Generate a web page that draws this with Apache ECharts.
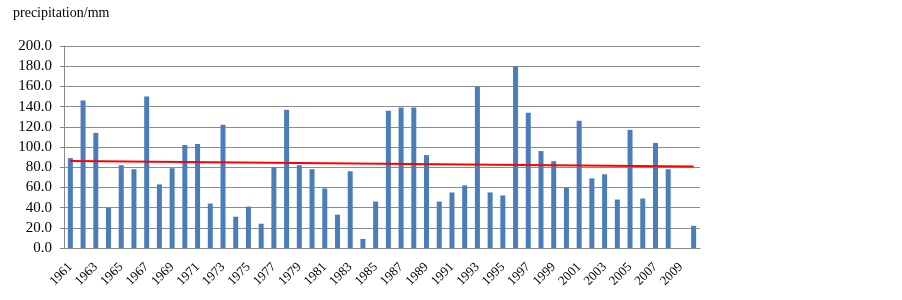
<!DOCTYPE html>
<html><head><meta charset="utf-8">
<script src="https://cdn.jsdelivr.net/npm/echarts@6/dist/echarts.min.js"></script>
<style>html,body{margin:0;padding:0;background:#fff}#c{width:902px;height:300px}</style>
</head><body><div id="c"></div>
<script>
const years = [];
for (let y = 1961; y <= 2010; y++) years.push(String(y));
const precipitation = [89,146,114,40,82,78,150,63,79,102,103,44,122,31,41,24,80,137,82,78,
  59,33,76,9,46,136,139,139,92,46,55,62,160,55,52,180,134,96,86,60,
  126,69,73,48,117,49,104,78,null,22];
const trendEnds = [86.2, 80.7];
const yTicks = {min: 0, max: 200, interval: 20};

const trend = years.map((_, i) => i === 0 ? trendEnds[0] : (i === years.length - 1 ? trendEnds[1] : null));
const serif = 'Liberation Serif';
const chart = echarts.init(document.getElementById('c'));
chart.setOption({
  animation: false,
  grid: {left: 64, right: 202, top: 46, bottom: 52},
  graphic: [{type: 'text', left: 13, top: 6, style: {text: 'precipitation/mm', font: '14px "Liberation Serif"', fill: '#000'}}],
  xAxis: {
    type: 'category', data: years, boundaryGap: true,
    axisLine: {lineStyle: {color: '#888', width: 1}},
    axisTick: {show: false},
    axisLabel: {interval: 1, rotate: 45, fontFamily: serif, fontSize: 13, color: '#000', margin: 17}
  },
  yAxis: {
    type: 'value', min: yTicks.min, max: yTicks.max, interval: yTicks.interval,
    axisLine: {show: true, lineStyle: {color: '#888'}},
    axisTick: {show: true, length: 4, lineStyle: {color: '#888'}},
    splitLine: {lineStyle: {color: '#8c8c8c', width: 1}},
    axisLabel: {fontFamily: serif, fontSize: 15, color: '#000', margin: 12, formatter: v => v.toFixed(1)}
  },
  series: [
    {type: 'bar', data: precipitation, barWidth: 5, itemStyle: {color: '#4a7ebb'}},
    {type: 'line', data: trend, connectNulls: true, symbol: 'none', lineStyle: {color: '#ff0000', width: 2}, z: 5}
  ]
});
</script></body></html>
